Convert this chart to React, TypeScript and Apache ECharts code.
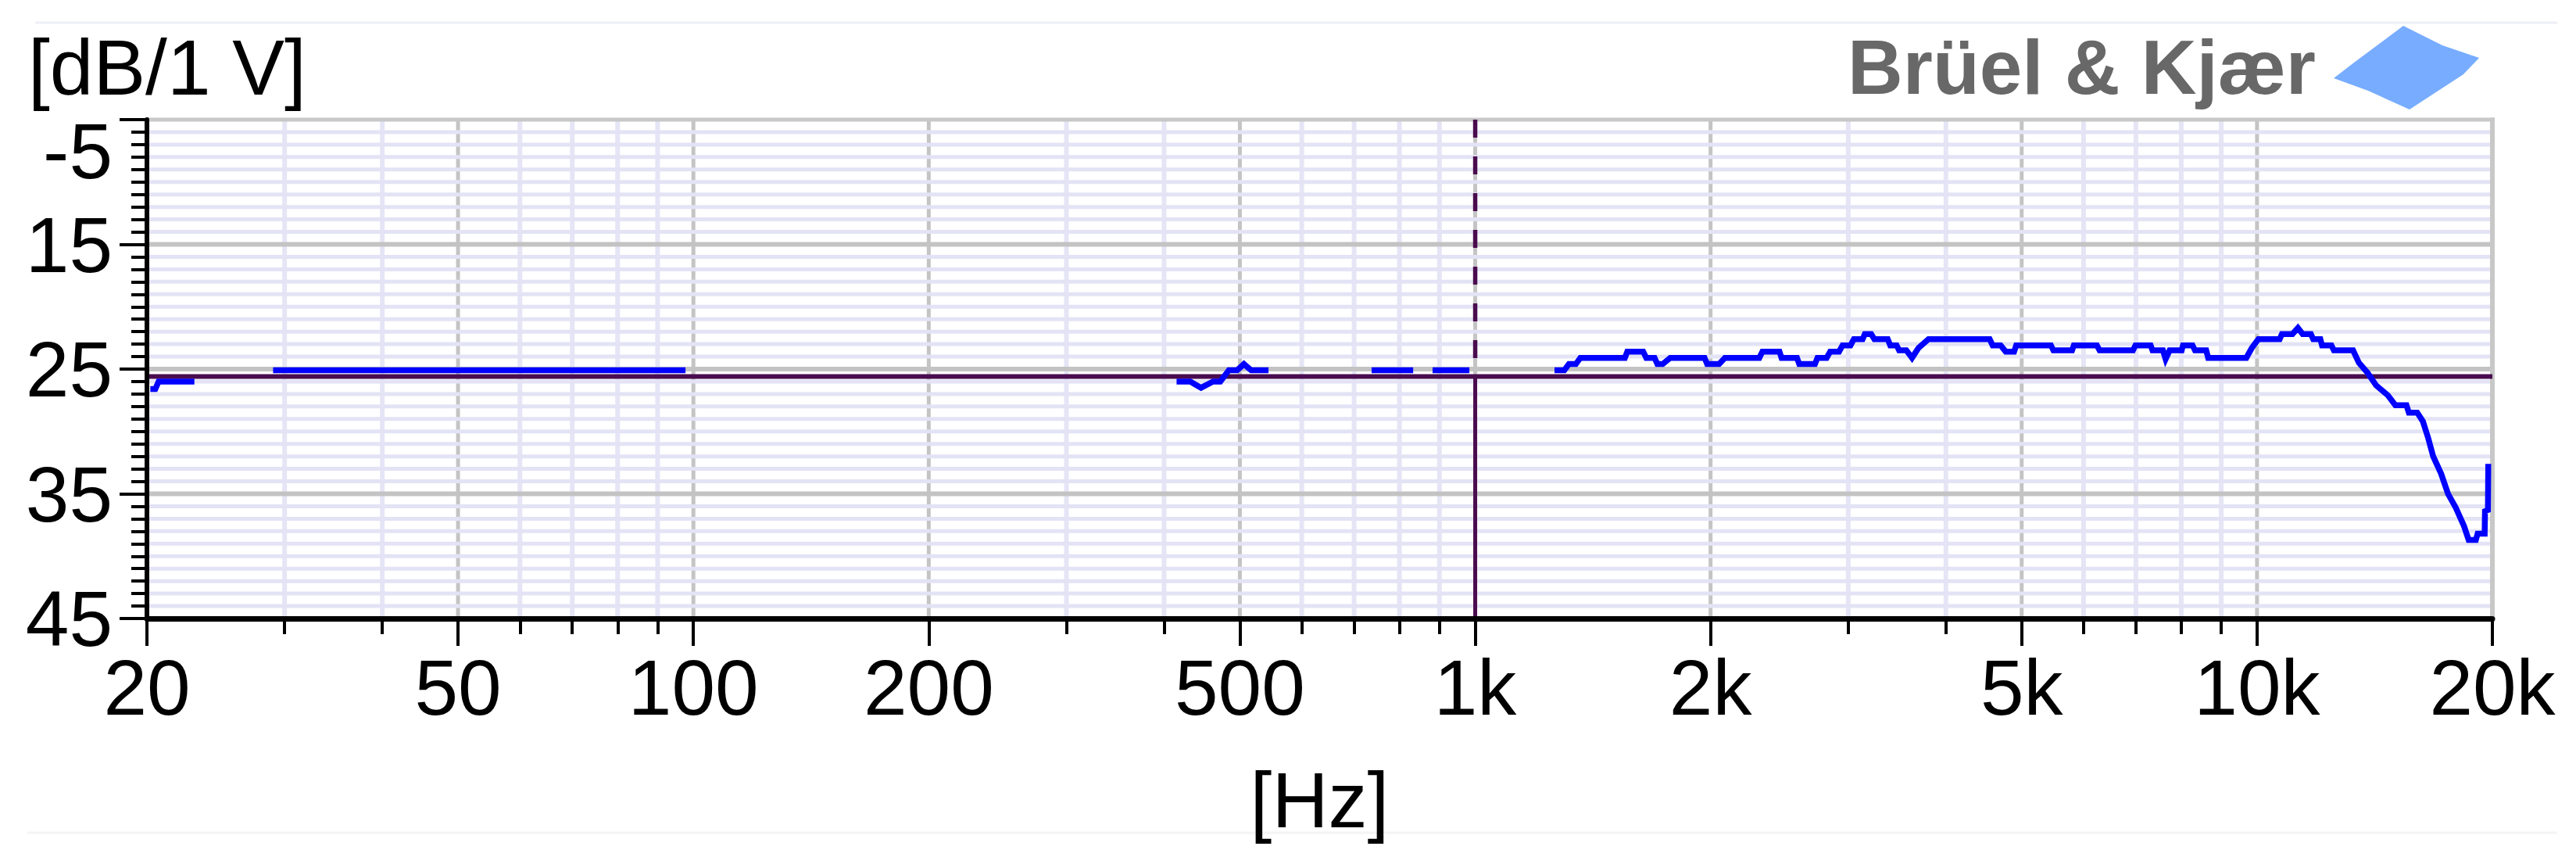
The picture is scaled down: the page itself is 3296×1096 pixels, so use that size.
import React, { useEffect, useRef } from "react";
import * as echarts from "echarts";

const W = 3296;
const H = 1096;
const FONT = '"Liberation Sans", Arial, sans-serif';

// Measured response (Hz, dB re 1 V); null marks a gap in the trace
const freqHz: (number | null)[] = [
  20.2, 20.5, 20.7, 23.0, null,
  29.0, 97.7, null,
  415, 432, 446, 462, 472, 484, 496, 506, 517, 544, null,
  737, 833, null,
  882, 983, null,
  1263, 1300, 1318, 1345, 1363, 1554, 1565, 1640, 1655, 1696, 1710, 1737, 1776, 1965,
  1980, 2051, 2086, 2309, 2330, 2450, 2465, 2580, 2597, 2720, 2740, 2815, 2845, 2920,
  2950, 3020, 3050, 3130, 3150, 3210, 3240, 3370, 3395, 3460, 3485, 3560, 3620, 3690,
  3800, 4550, 4590, 4700, 4770, 4890, 4920, 5450, 5490, 5800, 5830, 6240, 6290, 6940,
  6990, 7310, 7350, 7580, 7640, 7730, 8010, 8040, 8270, 8330, 8610, 8660, 9690, 9850,
  10040, 10690, 10760, 11100, 11280, 11440, 11720, 11800, 12050, 12110, 12450, 12540,
  13270, 13500, 13850, 14200, 14700, 15030, 15530, 15640, 16030, 16300, 16550, 16800,
  17200, 17550, 17950, 18400, 18650, 19050, 19150, 19550, 19570, 19740, 19760,
];
const levelDb: (number | null)[] = [
  -26.6, -26.6, -26.0, -26.0, null,
  -25.1, -25.1, null,
  -26.0, -26.0, -26.5, -26.0, -26.0, -25.1, -25.1, -24.6, -25.1, -25.1, null,
  -25.1, -25.1, null,
  -25.1, -25.1, null,
  -25.1, -25.1, -24.6, -24.6, -24.1, -24.1, -23.6, -23.6, -24.1, -24.1, -24.6, -24.6, -24.1, -24.1,
  -24.6, -24.6, -24.1, -24.1, -23.6, -23.6, -24.1, -24.1, -24.6, -24.6, -24.1, -24.1, -23.6, -23.6,
  -23.1, -23.1, -22.6, -22.6, -22.2, -22.2, -22.6, -22.6, -23.1, -23.1, -23.5, -23.5, -24.1, -23.3,
  -22.6, -22.6, -23.1, -23.1, -23.6, -23.6, -23.1, -23.1, -23.5, -23.5, -23.1, -23.1, -23.5, -23.5,
  -23.1, -23.1, -23.5, -23.5, -24.2, -23.5, -23.5, -23.1, -23.1, -23.5, -23.5, -24.1, -24.1, -23.3,
  -22.6, -22.6, -22.2, -22.2, -21.7, -22.2, -22.2, -22.6, -22.6, -23.1, -23.1, -23.5,
  -23.5, -24.5, -25.3, -26.3, -27.1, -27.9, -27.9, -28.5, -28.5, -29.2, -30.5, -32.0,
  -33.4, -35.0, -36.1, -37.6, -38.7, -38.7, -38.2, -38.2, -36.4, -36.3, -32.6,
];

// Cursor (crosshair)
const cursorHz = 1000;
const cursorDb = -25.6;

// Axis definitions
const xMinHz = 20;
const xMaxHz = 20000;
const yMinDb = -45;
const yMaxDb = -5;
const xLabelHz = [20, 50, 100, 200, 500, 1000, 2000, 5000, 10000, 20000];
const xMinorHz = [30, 40, 60, 70, 80, 90, 300, 400, 600, 700, 800, 900, 3000, 4000, 6000, 7000, 8000, 9000];
const xGridMajorHz = [50, 100, 200, 500, 1000, 2000, 5000, 10000];
const yLabelDb = [-45, -35, -25, -15];
const yTopLabelDb = [-5];
const yGridMajorDb = [-35, -25, -15];
const yTickDb: number[] = [];
for (let v = yMinDb; v <= yMaxDb; v += 1) yTickDb.push(v);
const yGridMinorDb = yTickDb.filter((v) => v > yMinDb && v < yMaxDb && v % 10 !== -5);

const lx = (f: number) => Math.log10(f);
const fmtHz = (v: number) => {
  const f = Math.round(Math.pow(10, v));
  return f >= 1000 ? f / 1000 + "k" : String(f);
};

// grid line kinds: 0 v-minor, 1 v-major, 2 h-minor, 3 h-major, 4 right border, 5 top border
const gridStyles = [
  { color: "#e5e5f6", width: 6 },
  { color: "#c4c4c4", width: 5 },
  { color: "#e3e3f5", width: 5 },
  { color: "#c3c3c3", width: 6 },
  { color: "#c8c8c8", width: 6 },
  { color: "#c8c8c8", width: 5 },
];

export default function App() {
  const ref = useRef<HTMLDivElement>(null);
  useEffect(() => {
    document.body.style.margin = "0";
    document.body.style.overflow = "hidden";
    if (!ref.current) return;
    const chart = echarts.init(ref.current, undefined, { renderer: "svg" });

    const traceData = freqHz.map((f, i) => {
      const v = levelDb[i];
      return f == null || v == null ? ["-", "-"] : [lx(f), v];
    });

    const gridData: number[][] = [];
    xMinorHz.forEach((f) => gridData.push([lx(f), -25, 0]));
    xGridMajorHz.forEach((f) => gridData.push([lx(f), -25, 1]));
    yGridMinorDb.forEach((d) => gridData.push([lx(cursorHz), d, 2]));
    yGridMajorDb.forEach((d) => gridData.push([lx(cursorHz), d, 3]));
    gridData.push([lx(xMaxHz), -25, 4]);
    gridData.push([lx(cursorHz), yMaxDb, 5]);

    const labelStyle = { fontSize: 100, lineHeight: 100, fontFamily: FONT, color: "#000" };

    const option: any = {
      animation: false,
      backgroundColor: "#ffffff",
      grid: { left: 188, right: W - 3189, top: 153, bottom: H - 791, containLabel: false },
      xAxis: [
        {
          type: "value", min: lx(xMinHz), max: lx(xMaxHz), position: "bottom", z: 10,
          axisLine: { show: true, lineStyle: { color: "#000", width: 7 } },
          axisTick: { show: true, customValues: xMinorHz.map(lx), length: 20, lineStyle: { color: "#000", width: 4 } },
          axisLabel: { show: false },
          splitLine: { show: false },
        },
        {
          type: "value", min: lx(xMinHz), max: lx(xMaxHz), position: "bottom", z: 10,
          axisLine: { show: false },
          axisTick: { show: true, customValues: xLabelHz.map(lx), length: 35, lineStyle: { color: "#000", width: 4 } },
          axisLabel: { show: true, customValues: xLabelHz.map(lx), formatter: fmtHz, margin: 38, ...labelStyle },
          splitLine: { show: false },
          name: "[Hz]", nameLocation: "middle", nameGap: 182,
          nameTextStyle: { ...labelStyle },
        },
      ],
      yAxis: [
        {
          type: "value", min: yMinDb, max: yMaxDb, position: "left", z: 10,
          axisLine: { show: true, lineStyle: { color: "#000", width: 6 } },
          axisTick: { show: true, customValues: yTickDb, length: 20, lineStyle: { color: "#000", width: 4 } },
          axisLabel: { show: false },
          splitLine: { show: false },
        },
        {
          type: "value", min: yMinDb, max: yMaxDb, position: "left", z: 10,
          axisLine: { show: false },
          axisTick: { show: true, customValues: [...yLabelDb, ...yTopLabelDb], length: 35, lineStyle: { color: "#000", width: 4 } },
          axisLabel: { show: true, customValues: yLabelDb, margin: 44, formatter: (v: number) => String(Math.abs(v)), ...labelStyle },
          splitLine: { show: false },
        },
        {
          type: "value", min: yMinDb, max: yMaxDb, position: "left", z: 10,
          axisLine: { show: false },
          axisTick: { show: false },
          axisLabel: { show: true, customValues: yTopLabelDb, margin: 44, verticalAlign: "top", ...labelStyle, lineHeight: 80, formatter: (v: number) => String(v) },
          splitLine: { show: false },
        },
      ],
      series: [
        {
          type: "custom", name: "grid", coordinateSystem: "cartesian2d", xAxisIndex: 0, yAxisIndex: 0,
          z: 1, silent: true, clip: false,
          encode: { x: 0, y: 1 },
          data: gridData,
          renderItem: (params: any, api: any) => {
            const cs = params.coordSys;
            const kind = api.value(2);
            const p = api.coord([api.value(0), api.value(1)]);
            const st = gridStyles[kind];
            let shape;
            if (kind === 0 || kind === 1) shape = { x1: p[0], y1: cs.y, x2: p[0], y2: cs.y + cs.height };
            else if (kind === 4) shape = { x1: p[0], y1: cs.y - 2.5, x2: p[0], y2: cs.y + cs.height };
            else if (kind === 5) shape = { x1: cs.x, y1: p[1], x2: cs.x + cs.width + 3, y2: p[1] };
            else shape = { x1: cs.x, y1: p[1], x2: cs.x + cs.width, y2: p[1] };
            return { type: "line", shape, style: { stroke: st.color, lineWidth: st.width } };
          },
        },
        {
          type: "line", name: "cursor-h", z: 3, symbol: "none", silent: true,
          data: [[lx(xMinHz), cursorDb], [lx(xMaxHz), cursorDb]],
          lineStyle: { color: "#4a0c4e", width: 6 },
        },
        {
          type: "line", name: "cursor-v-up", z: 3, symbol: "none", silent: true,
          data: [[lx(cursorHz), yMaxDb], [lx(cursorHz), cursorDb]],
          lineStyle: { color: "#4a0c4e", width: 5.5, type: [23, 24] },
        },
        {
          type: "line", name: "cursor-v-down", z: 3, symbol: "none", silent: true,
          data: [[lx(cursorHz), cursorDb], [lx(cursorHz), yMinDb]],
          lineStyle: { color: "#4a0c4e", width: 5 },
        },
        {
          type: "line", name: "response", z: 4, symbol: "none", connectNulls: false, silent: true,
          data: traceData,
          lineStyle: { color: "#0000ff", width: 7.5, join: "miter" },
        },
      ],
      graphic: [
        { type: "line", silent: true, shape: { x1: 45, y1: 29, x2: 3272, y2: 29 }, style: { stroke: "#eef0f5", lineWidth: 3 } },
        { type: "line", silent: true, shape: { x1: 35, y1: 1065, x2: 3272, y2: 1065 }, style: { stroke: "#f4f4f4", lineWidth: 3 } },
        {
          type: "text", x: 36, y: 86, silent: true,
          style: { text: "[dB/1 V]", fontSize: 100, lineHeight: 90, fontFamily: FONT, fill: "#000", align: "left", verticalAlign: "middle" },
        },
        {
          type: "text", x: 2364, y: 86, silent: true,
          style: { text: "Brüel & Kjær", fontSize: 98, lineHeight: 96, fontWeight: "bold", fontFamily: FONT, fill: "#686868", align: "left", verticalAlign: "middle" },
        },
        {
          type: "polygon", silent: true,
          shape: { points: [[3075, 33], [3125, 58], [3172, 74], [3152, 95], [3083, 140], [3030, 116], [2986, 100], [3012, 80]] },
          style: { fill: "#5f9dff", opacity: 0.85 },
        },
      ],
    };
    chart.setOption(option);
    return () => chart.dispose();
  }, []);
  return <div ref={ref} style={{ width: W, height: H }} />;
}
